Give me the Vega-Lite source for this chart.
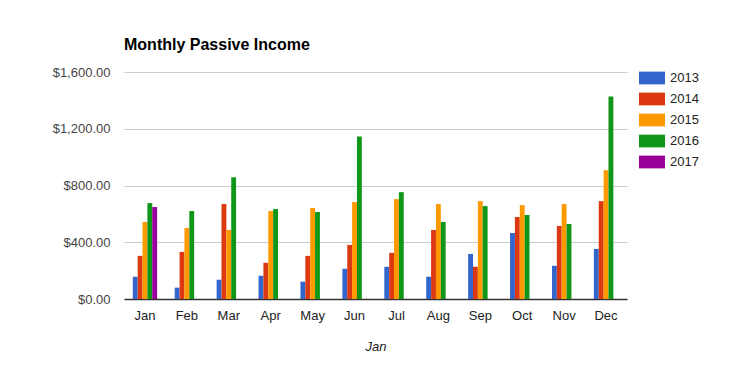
{
  "$schema": "https://vega.github.io/schema/vega-lite/v6.json",
  "width": 503,
  "height": 227,
  "autosize": {"type": "none"},
  "padding": {"left": 124, "top": 72, "right": 123, "bottom": 72},
  "background": "white",
  "title": {"text": "Monthly Passive Income", "anchor": "start", "frame": "group", "font": "Liberation Sans", "fontSize": 16, "fontWeight": "bold", "color": "#000000", "offset": 12},
  "data": {"values": [
    {"month": "Jan", "year": "2013", "value": 157}, {"month": "Jan", "year": "2014", "value": 304}, {"month": "Jan", "year": "2015", "value": 543}, {"month": "Jan", "year": "2016", "value": 676}, {"month": "Jan", "year": "2017", "value": 648},
    {"month": "Feb", "year": "2013", "value": 80}, {"month": "Feb", "year": "2014", "value": 332}, {"month": "Feb", "year": "2015", "value": 501}, {"month": "Feb", "year": "2016", "value": 620},
    {"month": "Mar", "year": "2013", "value": 136}, {"month": "Mar", "year": "2014", "value": 669}, {"month": "Mar", "year": "2015", "value": 487}, {"month": "Mar", "year": "2016", "value": 858},
    {"month": "Apr", "year": "2013", "value": 164}, {"month": "Apr", "year": "2014", "value": 255}, {"month": "Apr", "year": "2015", "value": 620}, {"month": "Apr", "year": "2016", "value": 634},
    {"month": "May", "year": "2013", "value": 122}, {"month": "May", "year": "2014", "value": 304}, {"month": "May", "year": "2015", "value": 641}, {"month": "May", "year": "2016", "value": 613},
    {"month": "Jun", "year": "2013", "value": 213}, {"month": "Jun", "year": "2014", "value": 381}, {"month": "Jun", "year": "2015", "value": 683}, {"month": "Jun", "year": "2016", "value": 1146},
    {"month": "Jul", "year": "2013", "value": 227}, {"month": "Jul", "year": "2014", "value": 325}, {"month": "Jul", "year": "2015", "value": 704}, {"month": "Jul", "year": "2016", "value": 753},
    {"month": "Aug", "year": "2013", "value": 157}, {"month": "Aug", "year": "2014", "value": 487}, {"month": "Aug", "year": "2015", "value": 669}, {"month": "Aug", "year": "2016", "value": 543},
    {"month": "Sep", "year": "2013", "value": 318}, {"month": "Sep", "year": "2014", "value": 227}, {"month": "Sep", "year": "2015", "value": 690}, {"month": "Sep", "year": "2016", "value": 655},
    {"month": "Oct", "year": "2013", "value": 465}, {"month": "Oct", "year": "2014", "value": 578}, {"month": "Oct", "year": "2015", "value": 662}, {"month": "Oct", "year": "2016", "value": 592},
    {"month": "Nov", "year": "2013", "value": 234}, {"month": "Nov", "year": "2014", "value": 515}, {"month": "Nov", "year": "2015", "value": 669}, {"month": "Nov", "year": "2016", "value": 529},
    {"month": "Dec", "year": "2013", "value": 353}, {"month": "Dec", "year": "2014", "value": 690}, {"month": "Dec", "year": "2015", "value": 908}, {"month": "Dec", "year": "2016", "value": 1427}
  ]},
  "mark": {"type": "bar"},
  "encoding": {
    "x": {
      "field": "month", "type": "nominal",
      "sort": ["Jan", "Feb", "Mar", "Apr", "May", "Jun", "Jul", "Aug", "Sep", "Oct", "Nov", "Dec"],
      "scale": {"paddingInner": 0.42, "paddingOuter": 0.21},
      "title": "Jan",
      "axis": {
        "labelAngle": 0, "labelFont": "Liberation Sans", "labelFontSize": 13, "labelColor": "#222222", "labelPadding": 10,
        "ticks": false, "domain": true, "domainColor": "#333333", "domainWidth": 1.5,
        "titleFont": "Liberation Sans", "titleFontSize": 13, "titleFontStyle": "italic", "titleFontWeight": "normal", "titleColor": "#222222", "titlePadding": 18
      }
    },
    "xOffset": {"field": "year", "type": "nominal", "scale": {"domain": ["2013", "2014", "2015", "2016", "2017"], "paddingInner": 0, "paddingOuter": 0}},
    "y": {
      "field": "value", "type": "quantitative",
      "scale": {"domain": [0, 1600], "nice": false},
      "title": null,
      "axis": {
        "values": [0, 400, 800, 1200, 1600], "format": "$,.2f",
        "labelFont": "Liberation Sans", "labelFontSize": 13, "labelColor": "#444444", "labelPadding": 14,
        "ticks": false, "domain": false, "gridColor": "#cccccc", "gridWidth": 1
      }
    },
    "color": {
      "field": "year", "type": "nominal",
      "scale": {"domain": ["2013", "2014", "2015", "2016", "2017"], "range": ["#3366cc", "#dc3912", "#ff9900", "#109618", "#990099"]},
      "legend": {
        "title": null, "orient": "none", "legendX": 515, "legendY": -7,
        "symbolType": "M-1,-0.49L1,-0.49L1,0.49L-1,0.49Z", "symbolSize": 676, "symbolStrokeWidth": 0, "symbolOpacity": 1,
        "labelFont": "Liberation Sans", "labelFontSize": 13, "labelColor": "#222222", "labelOffset": 5, "rowPadding": 1
      }
    }
  },
  "config": {"view": {"stroke": null}}
}
